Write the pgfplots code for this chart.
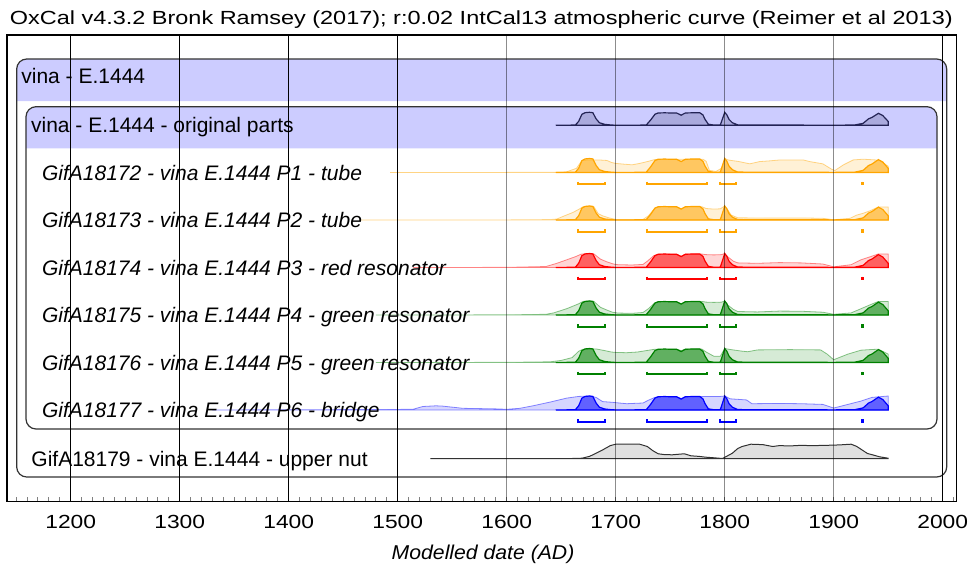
\documentclass[border=0pt]{standalone}
\usepackage{fontspec}
\setmainfont{Liberation Sans}
\usepackage{graphicx}
\usepackage{pgfplots}
\usepackage{pgfplotstable}
\pgfplotsset{compat=1.18}

\definecolor{lav}{RGB}{204,204,255}
\definecolor{oxor}{RGB}{255,165,0}
\definecolor{oxred}{RGB}{255,0,0}
\definecolor{oxgr}{RGB}{0,128,0}
\definecolor{oxbl}{RGB}{0,0,255}
\definecolor{oxnavy}{RGB}{35,35,85}
\definecolor{oxgrey}{RGB}{50,50,50}

\newcommand{\lab}{\fontsize{10.5bp}{12bp}\selectfont}
\newcommand{\sml}{\fontsize{9.5bp}{11bp}\selectfont}

% common posterior shape (relative height)
\pgfplotstableread{
yr p
1645 0
1663 0.02
1666 0.3
1669 0.85
1672 0.97
1676 1.0
1679 0.97
1682 0.5
1685 0.2
1690 0.07
1695 0.03
1699 0.01
1710 0.005
1728 0.02
1732 0.4
1736 0.85
1739 0.95
1745 0.96
1750 0.95
1756 0.94
1760 0.78
1764 0.95
1770 0.96
1777 0.97
1780 0.8
1782 0.45
1785 0.08
1790 0.02
1796 0.03
1798 0.5
1800 1.0
1802 0.8
1804 0.45
1807 0.2
1812 0.03
1850 0.02
1900 0.01
1919 0.02
1927 0.15
1932 0.5
1935 0.6
1941 0.92
1945 0.75
1950 0.3
1950 0
}\post

% likelihoods
\pgfplotstableread{
yr p
1493 0
1640 0.01
1655 0.05
1664 0.3
1669 0.86
1675 0.9
1684 0.9
1692 0.86
1696 0.72
1700 0.65
1707 0.6
1715 0.55
1722 0.65
1730 0.8
1736 0.93
1750 0.93
1765 0.95
1780 0.95
1783 0.8
1786 0.15
1792 0.08
1797 0.3
1800 1.0
1803 0.9
1806 0.86
1812 0.8
1823 0.62
1832 0.78
1841 0.83
1851 0.9
1872 0.9
1878 0.78
1890 0.62
1898 0.24
1901 0.14
1909 0.55
1918 0.9
1927 0.95
1938 0.9
1942 0.85
1950 0.45
1950 0
}\likA

\pgfplotstableread{
yr p
1465 0
1600 0.005
1640 0.03
1646 0.07
1653 0.3
1661 0.55
1667 0.8
1670 0.95
1676 1.0
1680 0.95
1684 0.45
1688 0.3
1694 0.15
1700 0.04
1725 0.04
1730 0.3
1736 0.85
1740 0.95
1756 0.94
1760 0.8
1764 0.95
1779 0.95
1783 0.82
1790 0.78
1796 0.8
1800 1.0
1803 0.7
1806 0.35
1812 0.16
1830 0.14
1850 0.15
1870 0.15
1890 0.12
1900 0.02
1915 0.12
1921 0.35
1927 0.48
1933 0.65
1941 0.93
1950 0.93
1950 0
}\likB

\pgfplotstableread{
yr p
1514 0
1600 0.01
1636 0.07
1646 0.3
1655 0.55
1664 0.8
1668 0.95
1674 1.0
1680 0.97
1686 0.6
1692 0.4
1698 0.25
1702 0.2
1715 0.18
1725 0.22
1729 0.45
1735 0.85
1740 0.96
1756 0.95
1760 0.8
1764 0.96
1779 0.96
1783 0.92
1790 0.9
1797 0.92
1800 1.0
1803 0.75
1808 0.45
1812 0.33
1830 0.3
1850 0.35
1870 0.33
1890 0.25
1900 0.05
1916 0.2
1925 0.55
1934 0.78
1941 0.97
1950 0.97
1950 0
}\likC

\pgfplotstableread{
yr p
1480 0
1600 0.01
1636 0.05
1643 0.15
1655 0.45
1666 0.8
1670 0.97
1676 1.0
1680 0.97
1686 0.55
1692 0.35
1697 0.2
1702 0.14
1715 0.12
1725 0.18
1730 0.45
1736 0.88
1740 0.96
1756 0.95
1760 0.8
1764 0.97
1779 0.97
1783 0.92
1790 0.9
1797 0.92
1800 1.0
1803 0.7
1808 0.4
1812 0.25
1830 0.22
1850 0.28
1870 0.27
1890 0.2
1900 0.05
1916 0.15
1925 0.45
1934 0.75
1941 0.97
1950 0.97
1950 0
}\likD

\pgfplotstableread{
yr p
1480 0
1600 0.01
1640 0.05
1650 0.15
1660 0.35
1666 0.8
1670 0.95
1676 0.97
1682 0.97
1690 0.85
1696 0.75
1700 0.72
1710 0.7
1720 0.75
1728 0.85
1736 0.95
1756 0.95
1760 0.85
1764 0.96
1779 0.96
1783 0.75
1790 0.45
1796 0.45
1800 1.0
1805 0.93
1815 0.82
1821 0.77
1830 0.9
1860 0.92
1888 0.9
1894 0.6
1900 0.2
1913 0.6
1925 0.88
1935 0.93
1941 0.95
1950 0.6
1950 0
}\likE

\pgfplotstableread{
yr p
1330 0
1400 0.02
1480 0.03
1514 0.05
1523 0.25
1535 0.3
1541 0.28
1560 0.12
1590 0.08
1600 0.05
1612 0.12
1624 0.3
1640 0.57
1655 0.85
1666 0.97
1676 1.0
1682 0.9
1688 0.6
1697 0.55
1710 0.45
1725 0.5
1730 0.7
1736 0.9
1740 0.96
1756 0.95
1760 0.82
1764 0.97
1779 0.97
1783 0.97
1796 0.97
1800 1.0
1805 0.8
1820 0.72
1825 0.45
1850 0.47
1870 0.45
1890 0.4
1900 0.14
1913 0.4
1925 0.64
1935 0.9
1950 1.0
1950 0
}\likF

% upper nut
\pgfplotstableread{
yr p
1530 0
1660 0
1669 0.02
1676 0.15
1681 0.33
1688 0.6
1695 0.9
1700 1.0
1722 1.0
1729 0.84
1734 0.55
1739 0.33
1745 0.27
1752 0.26
1758 0.3
1763 0.33
1769 0.19
1776 0.15
1783 0.09
1790 0.05
1798 0.0
1807 0.37
1812 0.7
1816 0.84
1824 1.0
1835 0.97
1844 0.84
1850 0.9
1860 0.88
1870 0.92
1880 0.9
1893 0.92
1905 0.95
1916 1.0
1921 0.85
1926 0.6
1931 0.35
1936 0.25
1942 0.12
1950 0.02
1950 0
}\nut

% 95.4% ranges (offset below baseline)
\pgfplotstableread{
yr dy
1665.7 9
1665.7 11.7
1690 11.7
1690 9
}\brA
\pgfplotstableread{
yr dy
1729 9
1729 11.7
1784 11.7
1784 9
}\brB
\pgfplotstableread{
yr dy
1796 9
1796 11.7
1810.7 11.7
1810.7 9
}\brC
\pgfplotstableread{
yr dy
1925.9 9
1925.9 11.7
1927.3 11.7
1927.3 9
}\brD

\newcommand{\distrow}[3]{%
  \addplot[draw=#2, draw opacity=0.45, line width=0.4bp, fill=#2, fill opacity=0.16]
    table[x index=0, y expr={#3-14*\thisrowno{1}}] {#1} -- cycle;
  \addplot[draw=#2, line width=0.6bp, fill=#2, fill opacity=0.55]
    table[x index=0, y expr={#3-14*\thisrowno{1}}] {\post} -- cycle;
  \addplot[draw=#2, line width=0.9bp] table[x index=0, y expr={#3+\thisrowno{1}}] {\brA};
  \addplot[draw=#2, line width=0.9bp] table[x index=0, y expr={#3+\thisrowno{1}}] {\brB};
  \addplot[draw=#2, line width=0.9bp] table[x index=0, y expr={#3+\thisrowno{1}}] {\brC};
  \addplot[draw=#2, line width=0.9bp] table[x index=0, y expr={#3+\thisrowno{1}}] {\brD};
}

\begin{document}
\begin{tikzpicture}
\useasboundingbox (-3.5bp,-32.15bp) rectangle (480.5bp,250.85bp);
\begin{axis}[
  scale only axis, width=474.85bp, height=233.35bp,
  xmin=1141.56, xmax=2012.84, ymin=35, ymax=501.7, y dir=reverse,
  clip=false, axis line style={line width=0.7bp},
  xtick={1200,1300,1400,1500,1600,1700,1800,1900,2000},
  xticklabel={\scalebox{1.2}[1]{\pgfmathprintnumber[assume math mode=true,1000 sep={}]{\tick}}},
  minor xtick={1150,1160,...,2010},
  ytick=\empty, xtick pos=left, tick align=inside,
  major tick length=0pt, minor tick length=2.4bp,
  minor tick style={line width=0.5bp},
  xticklabel style={font=\sml, inner sep=0pt, yshift=-6.7bp},
]
% outer group box
\fill[lav] (axis cs:1150.46,101) [rounded corners=5bp] -- (axis cs:1150.46,59) -- (axis cs:2003.67,59) [sharp corners] -- (axis cs:2003.67,101) -- cycle;
\draw[black!80, line width=0.6bp, rounded corners=5bp] (axis cs:1150.46,59) rectangle (axis cs:2003.67,477);
% inner group box
\fill[lav] (axis cs:1158.99,148.3) [rounded corners=5bp] -- (axis cs:1158.99,106.7) -- (axis cs:1994.77,106.7) [sharp corners] -- (axis cs:1994.77,148.3) -- cycle;
\draw[black!80, line width=0.6bp, rounded corners=5bp] (axis cs:1158.99,106.7) rectangle (axis cs:1994.77,429);

% group distribution
\addplot[draw=oxnavy, line width=0.6bp, fill=oxnavy, fill opacity=0.2]
  table[x index=0, y expr={125.3-13*\thisrowno{1}}] {\post} -- cycle;

\distrow{\likA}{oxor}{172.5}
\distrow{\likB}{oxor}{220}
\distrow{\likC}{oxred}{267.5}
\distrow{\likD}{oxgr}{315}
\distrow{\likE}{oxgr}{362.5}
\distrow{\likF}{oxbl}{410}

\addplot[draw=oxgrey, line width=0.5bp, fill=black, fill opacity=0.12]
  table[x index=0, y expr={458.5-14.3*\thisrowno{1}}] {\nut} -- cycle;

% labels
\node[anchor=base west, inner sep=0, font=\lab] at (axis cs:1154.4,83.3) {vina - E.1444};
\node[anchor=base west, inner sep=0, font=\lab] at (axis cs:1163.3,132) {vina - E.1444 - original parts};
\node[anchor=base west, inner sep=0, font=\lab\itshape] at (axis cs:1173.4,180) {GifA18172 - vina E.1444 P1 - tube};
\node[anchor=base west, inner sep=0, font=\lab\itshape] at (axis cs:1173.4,227.5) {GifA18173 - vina E.1444 P2 - tube};
\node[anchor=base west, inner sep=0, font=\lab\itshape] at (axis cs:1173.4,275) {GifA18174 - vina E.1444 P3 - red resonator};
\node[anchor=base west, inner sep=0, font=\lab\itshape] at (axis cs:1173.4,322.5) {GifA18175 - vina E.1444 P4 - green resonator};
\node[anchor=base west, inner sep=0, font=\lab\itshape] at (axis cs:1173.4,370) {GifA18176 - vina E.1444 P5 - green resonator};
\node[anchor=base west, inner sep=0, font=\lab\itshape] at (axis cs:1173.4,417.5) {GifA18177 - vina E.1444 P6 - bridge};
\node[anchor=base west, inner sep=0, font=\lab] at (axis cs:1163.6,466) {GifA18179 - vina E.1444 - upper nut};

% century lines
\draw[black, line width=0.75bp] (axis cs:1200,35) -- (axis cs:1200,501.7);
\draw[black, line width=0.75bp] (axis cs:1300,35) -- (axis cs:1300,501.7);
\draw[black, line width=0.75bp] (axis cs:1400,35) -- (axis cs:1400,501.7);
\draw[black, line width=0.75bp] (axis cs:1500,35) -- (axis cs:1500,501.7);
\draw[black, line width=0.75bp] (axis cs:2000,35) -- (axis cs:2000,501.7);
\draw[black, opacity=0.45, line width=0.6bp] (axis cs:1600,35) -- (axis cs:1600,501.7);
\draw[black, opacity=0.45, line width=0.6bp] (axis cs:1700,35) -- (axis cs:1700,501.7);
\draw[black, opacity=0.45, line width=0.6bp] (axis cs:1800,35) -- (axis cs:1800,501.7);
\draw[black, opacity=0.45, line width=0.6bp] (axis cs:1900,35) -- (axis cs:1900,501.7);

% title and axis label
\node[anchor=base west, inner sep=0, font=\sml] at (axis cs:1143.8,24) {\scalebox{1.235}[1]{OxCal v4.3.2 Bronk Ramsey (2017); r:0.02 IntCal13 atmospheric curve (Reimer et al 2013)}};
\node[anchor=base, inner sep=0, font=\fontsize{10bp}{12bp}\selectfont\itshape] at (axis cs:1578.3,559.5) {\scalebox{1.06}[1]{Modelled date (AD)}};
\end{axis}
\end{tikzpicture}
\end{document}
